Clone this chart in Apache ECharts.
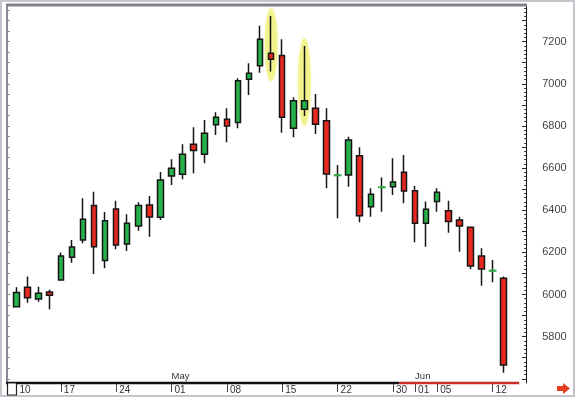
<!DOCTYPE html>
<html><head><meta charset="utf-8">
<script src="https://cdn.jsdelivr.net/npm/echarts@6/dist/echarts.min.js"></script>
<style>html,body{margin:0;padding:0;background:#fff}#c{width:576px;height:398px}</style>
</head><body><div id="c"></div>
<script>
const categories = [
  '04-10','04-11','04-12','04-13','04-17','04-18','04-19','04-20','04-21',
  '04-24','04-25','04-26','04-27','04-28',
  '05-01','05-02','05-03','05-04','05-05','05-08','05-09','05-10','05-11','05-12',
  '05-15','05-16','05-17','05-18','05-19','05-22','05-23','05-24','05-25','05-26',
  '05-30','05-31','06-01','06-02','06-05','06-06','06-07','06-08','06-09','06-12','06-13'
];
const opens  = [5942,6034,5979,6012,6069,6177,6259,6422,6161,6406,6240,6325,6425,6367,6563,6571,6713,6666,6806,6832,6816,7022,7086,7145,7134,6789,6879,6884,6825,6566,6567,6659,6417,6509,6512,6580,6493,6338,6441,6398,6354,6319,6183,6113,6077];
const closes = [6009,5985,6006,5996,6183,6226,6357,6227,6350,6235,6338,6422,6368,6544,6599,6666,6683,6765,6841,6800,7015,7050,7211,7116,6841,6920,6920,6808,6572,6566,6733,6374,6476,6509,6534,6491,6338,6405,6485,6346,6325,6135,6121,6113,5666];
const lows   = [5940,5961,5966,5930,6066,6151,6243,6097,6125,6215,6207,6302,6274,6354,6520,6547,6575,6623,6757,6723,6789,6947,7053,7058,6768,6746,6847,6762,6504,6362,6512,6343,6369,6393,6472,6433,6248,6227,6393,6293,6203,6120,6041,6058,5629];
const highs  = [6034,6085,6037,6022,6199,6259,6457,6488,6392,6445,6381,6438,6468,6582,6642,6713,6794,6828,6865,6884,7026,7097,7275,7322,7211,6936,7180,6952,6884,6615,6749,6699,6504,6555,6647,6662,6515,6441,6504,6445,6369,6322,6219,6164,6085];
const xTickDates = ['04-10','04-17','04-24','05-01','05-08','05-15','05-22','05-30','06-01','06-05','06-12'];
const monthLabels = {'05-01':'May','06-01':'Jun'};
const yTickLabels = [5800,6000,6200,6400,6600,6800,7000,7200];
const yMajorTicks = [5600,5700,5800,5900,6000,6100,6200,6300,6400,6500,6600,6700,6800,6900,7000,7100,7200,7300];
const highlighted = [23, 26];
const redFromIndex = 34;

const Y_MIN = 5580, Y_MAX = 7374;
const minorTicks = []; for (let v = 5600; v <= 7360; v += 20) minorTicks.push(v);
const leftTicks = []; for (let v = 5600; v <= 7350; v += 50) leftTicks.push(v);

const candleData = categories.map((c, i) => [opens[i], closes[i], lows[i], highs[i]]);
const dojiData = [];
categories.forEach((c, i) => { if (opens[i] === closes[i]) dojiData.push([i, opens[i]]); });

const FONT = 'Liberation Sans, Arial, sans-serif';
const chart = echarts.init(document.getElementById('c'), null, {renderer: 'canvas'});
const yBase = {gridIndex: 0, type: 'value', min: Y_MIN, max: Y_MAX, scale: true, splitLine: {show: false}};
chart.setOption({
  animation: false,
  backgroundColor: '#fff',
  grid: [{left: 11, right: 66.8, top: 5, bottom: 15}],
  xAxis: [
    {type: 'category', gridIndex: 0, data: categories, boundaryGap: true,
     axisLine: {show: false},
     axisTick: {show: true, alignWithLabel: true, length: 9, interval: (i, v) => xTickDates.includes(v),
                lineStyle: {color: '#444', width: 1}},
     axisLabel: {show: true, interval: (i, v) => xTickDates.includes(v), formatter: v => v.slice(3),
                 align: 'left', padding: [0, 0, 0, 3], margin: 2, fontSize: 10, color: '#333', fontFamily: FONT},
     splitLine: {show: false}},
    {type: 'category', gridIndex: 0, data: categories, boundaryGap: true, position: 'bottom',
     axisLine: {show: false}, axisTick: {show: false},
     axisLabel: {show: true, inside: true, interval: (i, v) => v in monthLabels, formatter: v => monthLabels[v] || '',
                 align: 'left', margin: 2, fontSize: 9.5, color: '#333', fontFamily: FONT},
     splitLine: {show: false}}
  ],
  yAxis: [
    Object.assign({}, yBase, {position: 'right', offset: 17,
      axisLine: {show: true, lineStyle: {color: '#111', width: 1}},
      axisTick: {show: true, inside: true, length: 4, customValues: yMajorTicks, lineStyle: {color: '#111'}},
      axisLabel: {show: true, customValues: yTickLabels, formatter: v => String(v), margin: 16, fontSize: 11, color: '#444', fontFamily: FONT}}),
    Object.assign({}, yBase, {position: 'right', offset: 17,
      axisLine: {show: false},
      axisTick: {show: true, inside: true, length: 2, customValues: minorTicks, lineStyle: {color: '#333'}},
      axisLabel: {show: false}}),
    Object.assign({}, yBase, {position: 'left', offset: 4,
      axisLine: {show: true, lineStyle: {color: '#8c8896', width: 2}},
      axisTick: {show: true, inside: true, length: 3, customValues: leftTicks, lineStyle: {color: '#8c8896'}},
      axisLabel: {show: false}})
  ],
  series: [
    {type: 'candlestick', xAxisIndex: 0, yAxisIndex: 0, data: candleData, barWidth: 6, z: 3,
     itemStyle: {color: '#25b24a', color0: '#e6281e', borderColor: '#151515', borderColor0: '#151515', borderWidth: 1.5}},
    {type: 'scatter', xAxisIndex: 0, yAxisIndex: 0, data: dojiData, symbol: 'rect', symbolSize: [8, 2.5], z: 4,
     itemStyle: {color: '#3cbf50'}}
  ]
});

function px(i, v) { return chart.convertToPixel({xAxisIndex: 0, yAxisIndex: 0}, [i, v]); }
const band = px(1, Y_MIN)[0] - px(0, Y_MIN)[0];
const axisY = px(0, Y_MIN)[1];
const gfx = [];
highlighted.forEach(i => {
  const top = px(i, highs[i])[1] - 8, bot = px(i, lows[i])[1] + 10;
  const cx = px(i, highs[i])[0];
  const ry = (bot - top) / 2, rx = 6.5;
  gfx.push({type: 'circle', z: 1, x: cx, y: (top + bot) / 2, scaleX: rx / ry, shape: {cx: 0, cy: 0, r: ry},
            style: {fill: 'rgba(236,236,90,0.55)', shadowBlur: 3, shadowColor: 'rgba(236,236,90,0.6)'}});
});
const redStart = px(redFromIndex, Y_MIN)[0] + 0.55 * band;
const redEnd = px(categories.length - 1, Y_MIN)[0] + 1.4 * band;
gfx.push({type: 'line', z: 10, shape: {x1: 6, y1: axisY, x2: redStart, y2: axisY}, style: {stroke: '#111', lineWidth: 2.5}});
gfx.push({type: 'line', z: 10, shape: {x1: redStart, y1: axisY, x2: redEnd, y2: axisY}, style: {stroke: '#c9302a', lineWidth: 2.5}});
gfx.push({type: 'line', z: 10, shape: {x1: 6, y1: 5, x2: 527, y2: 5}, style: {stroke: '#857d8e', lineWidth: 3}});
gfx.push({type: 'rect', z: 10, shape: {x: 1, y: 1, width: 573, height: 395}, style: {fill: 'none', stroke: '#c4c4cc', lineWidth: 2}});
gfx.push({type: 'rect', z: 11, shape: {x: 7.5, y: 383, width: 9, height: 12}, style: {fill: '#fff', stroke: '#222', lineWidth: 1.2}});
gfx.push({type: 'polygon', z: 11, shape: {points: [[557, 386], [563, 386], [563, 383], [570, 388.5], [563, 394], [563, 391], [557, 391]]},
          style: {fill: '#e53b22'}});
chart.setOption({graphic: gfx});
</script></body></html>
